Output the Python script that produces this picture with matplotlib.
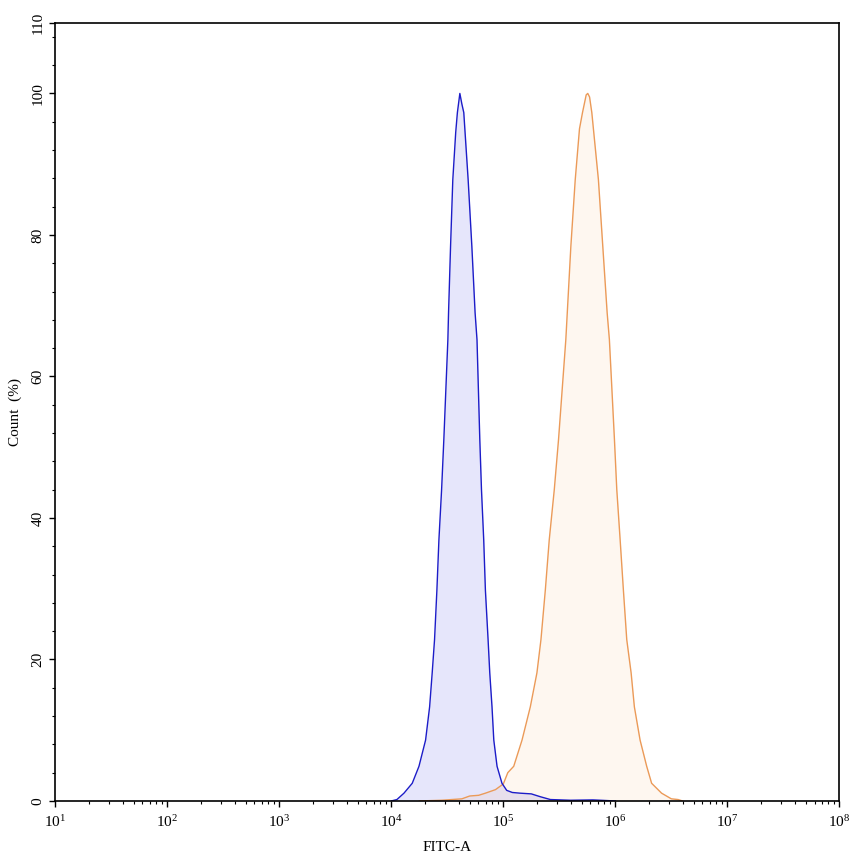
import numpy as np
import matplotlib
matplotlib.use("Agg")
import matplotlib.pyplot as plt
from matplotlib.ticker import FixedLocator, LogLocator, LogFormatterMathtext, MultipleLocator, NullFormatter

plt.rcParams['font.family'] = ['Liberation Serif', 'DejaVu Serif']

# 数据: log10(FITC-A) 与 Count (%)
blue_log = [4.00, 4.05, 4.113, 4.187, 4.247, 4.306, 4.342, 4.365, 4.386, 4.407,
            4.425, 4.449, 4.469, 4.505, 4.511, 4.529, 4.549, 4.575, 4.590, 4.612,
            4.630, 4.647, 4.686, 4.719, 4.748, 4.765, 4.790, 4.805, 4.825, 4.840,
            4.864, 4.879, 4.899, 4.915, 4.944, 4.988, 5.03, 5.08, 5.15, 5.25,
            5.33, 5.42, 5.6, 5.8, 6.0]
blue_pct = [0.0, 0.2, 1.1, 2.5, 4.9, 8.6, 13.3, 18.1, 22.8, 29.8,
            36.9, 44.0, 51.1, 65.2, 69.0, 78.4, 87.8, 94.5, 97.3, 100.0,
            98.5, 97.3, 87.8, 78.4, 69.0, 65.2, 51.1, 44.0, 36.9, 29.8,
            22.8, 18.1, 13.3, 8.6, 4.9, 2.5, 1.5, 1.2, 1.1, 1.0,
            0.6, 0.2, 0.1, 0.15, 0.0]

orange_log = [4.25, 4.45, 4.63, 4.70, 4.78, 4.84, 4.93, 5.00, 5.04, 5.093,
              5.167, 5.241, 5.300, 5.336, 5.375, 5.410, 5.455, 5.493, 5.558, 5.571,
              5.603, 5.642, 5.680, 5.707, 5.740, 5.754, 5.770, 5.790, 5.849, 5.888,
              5.927, 5.947, 5.992, 6.013, 6.043, 6.072, 6.102, 6.141, 6.170, 6.221,
              6.280, 6.324, 6.413, 6.50, 6.56, 6.60]
orange_pct = [0.0, 0.1, 0.3, 0.7, 0.8, 1.1, 1.6, 2.4, 4.0, 4.9,
              8.6, 13.3, 18.1, 22.8, 29.8, 36.9, 44.0, 51.1, 65.2, 69.0,
              78.4, 87.8, 95.0, 97.3, 99.8, 100.0, 99.5, 97.3, 87.8, 78.4,
              69.0, 65.2, 51.1, 44.0, 36.9, 29.8, 22.8, 18.1, 13.3, 8.6,
              4.9, 2.5, 1.1, 0.3, 0.2, 0.0]

x_decades = [1, 2, 3, 4, 5, 6, 7, 8]
y_ticks = [0, 20, 40, 60, 80, 100, 110]

bx = 10 ** np.array(blue_log)
ox = 10 ** np.array(orange_log)

fig = plt.figure(figsize=(8.53, 8.56), dpi=100)
ax = fig.add_axes([0.0648, 0.0643, 0.9192, 0.9092])

ax.fill_between(bx, blue_pct, 0, color='#e6e6fb', lw=0)
ax.fill_between(ox, orange_pct, 0, color=(0.96, 0.6, 0.25), alpha=0.08, lw=0)
ax.plot(ox, orange_pct, color='#eb9a58', lw=1)
ax.plot(bx, blue_pct, color='#1c1cc8', lw=1)

ax.set_xscale('log')
ax.set_xlim(10, 1e8)
ax.set_ylim(0, 110)
ax.xaxis.set_major_locator(FixedLocator([10.0 ** d for d in x_decades]))
ax.xaxis.set_major_formatter(LogFormatterMathtext())
ax.xaxis.set_minor_locator(LogLocator(base=10, subs=np.arange(2, 10), numticks=100))
ax.xaxis.set_minor_formatter(NullFormatter())
ax.set_yticks(y_ticks)
ax.yaxis.set_minor_locator(MultipleLocator(4))

ax.tick_params(axis='both', which='major', direction='out', length=4.5, width=1, labelsize=11)
ax.tick_params(axis='both', which='minor', direction='out', length=2.5, width=0.8)
ax.tick_params(axis='y', labelrotation=90, pad=3, labelsize=11)
ax.tick_params(axis='x', pad=5)
for lbl in ax.get_yticklabels():
    lbl.set_va('center')

for s in ax.spines.values():
    s.set_linewidth(1.2)

ax.set_xlabel('FITC-A', fontsize=11, labelpad=8)
ax.set_ylabel('Count  (%)', fontsize=11, labelpad=7)

plt.savefig('out.png', dpi=100)
